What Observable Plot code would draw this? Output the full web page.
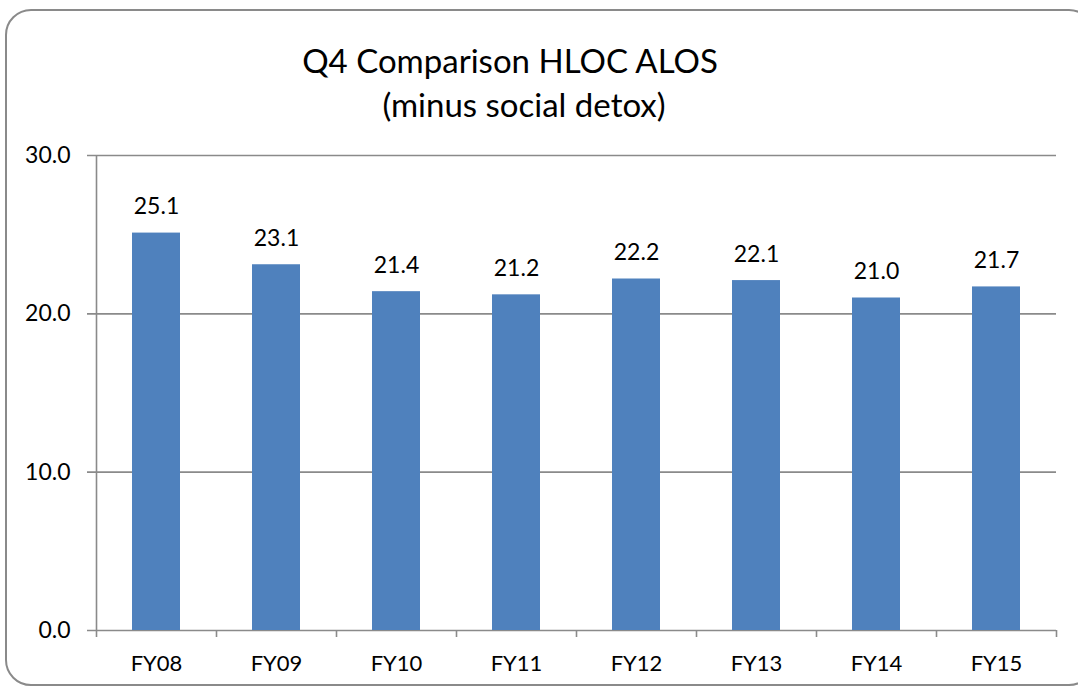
<!DOCTYPE html>
<html>
<head>
<meta charset="utf-8">
<script src="https://cdn.jsdelivr.net/npm/d3@7"></script>
<script src="https://cdn.jsdelivr.net/npm/@observablehq/plot@0.6"></script>
<style>
  html, body { margin: 0; padding: 0; background: #fff; }
  #wrap { position: relative; width: 1078px; height: 690px; overflow: hidden; font-family: Lato, "Open Sans", sans-serif; }
  #frame { position: absolute; left: 5px; top: 9px; width: 1090px; height: 677px; border: 2px solid #8a8a8a; border-radius: 26px; box-sizing: border-box; }
  .title { position: absolute; font-size: 33px; color: #000; white-space: nowrap; transform: translateX(-50%); line-height: 1; }
  #chart { position: absolute; left: 0; top: 0; }
</style>
</head>
<body>
<div id="wrap">
  <div id="frame"></div>
  <div id="chart"></div>
  <div class="title" id="t1" style="left:510px; top:44px;">Q4 Comparison HLOC ALOS</div>
  <div class="title" id="t2" style="left:524px; top:88px;">(minus social detox)</div>
</div>
<script>
const categories = ["FY08", "FY09", "FY10", "FY11", "FY12", "FY13", "FY14", "FY15"];
const values = [25.1, 23.1, 21.4, 21.2, 22.2, 22.1, 21.0, 21.7];
const yTicks = [0, 10, 20, 30];

const data = categories.map((c, i) => ({category: c, value: values[i]}));
const gray = "#8a8a8a";

const chart = Plot.plot({
  width: 1078,
  height: 690,
  marginLeft: 96,
  marginRight: 22,
  marginTop: 155,
  marginBottom: 60,
  style: {fontFamily: "Lato, 'Open Sans', sans-serif", background: "transparent", color: "#000"},
  x: {type: "band", domain: categories, paddingInner: 0.6, paddingOuter: 0.3, align: 0.5, label: null},
  y: {domain: [0, 30], label: null},
  marks: [
    Plot.ruleY(yTicks, {stroke: gray, strokeWidth: 1.6, insetLeft: -9}),
    Plot.ruleX([categories[0]], {x: d => d, y1: 0, y2: 30, stroke: gray, strokeWidth: 1.6, dx: -60}),
    Plot.ruleX(categories, {x: d => d, y1: 0, y2: 0, insetBottom: -7, stroke: gray, strokeWidth: 1.6, dx: -60}),
    Plot.ruleX([categories[categories.length - 1]], {x: d => d, y1: 0, y2: 0, insetBottom: -7, stroke: gray, strokeWidth: 1.6, dx: 60}),
    Plot.barY(data, {x: "category", y: "value", fill: "#4F81BD"}),
    Plot.text(data, {x: "category", y: "value", text: d => d.value.toFixed(1), dy: -26, fontSize: 23, fill: "#000"}),
    Plot.axisY({ticks: yTicks, tickFormat: d => d.toFixed(1), tickSize: 0, tickPadding: 26, fontSize: 23, label: null}),
    Plot.axisX({tickSize: 0, tickPadding: 25, fontSize: 22, label: null})
  ]
});
document.getElementById("chart").appendChild(chart);
</script>
</body>
</html>
